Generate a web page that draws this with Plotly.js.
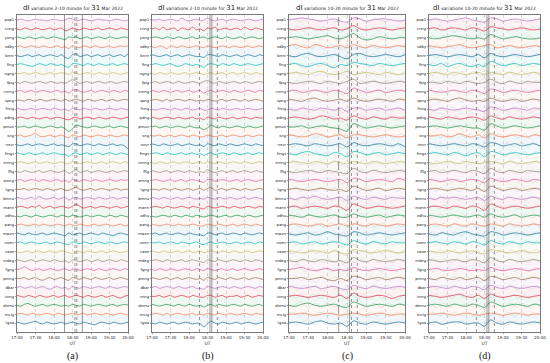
<!DOCTYPE html>
<html><head><meta charset="utf-8">
<script src="https://cdn.plot.ly/plotly-3.0.1.min.js"></script>
<style>html,body{margin:0;padding:0;background:#fff}#chart{width:550px;height:363px}</style>
</head><body><div id="chart"></div>
<script>
const stations = ["pop1","cnng","yong","sdby","bnnr","fing","ngng","fpig","cmng","spng","fnng","pdng","pmun","sng","nevr","fmgs","mnng","fllg","amng","tgng","bmnu","mann","zdhu","pang","mwzn","comr","naxe","mdeg","fgng","pmng","dbar","vnng","demu","mcig","tgoa"];
const timesAB = ["17:00","17:06","17:12","17:18","17:24","17:30","17:36","17:42","17:48","17:54","18:00","18:06","18:12","18:18","18:24","18:30","18:36","18:42","18:48","18:54","19:00","19:06","19:12","19:18","19:24","19:30","19:36","19:42","19:48","19:54","20:00"];
const timesCD = ["17:00","17:10","17:20","17:30","17:40","17:50","18:00","18:10","18:20","18:30","18:40","18:50","19:00","19:10","19:20","19:30","19:40","19:50","20:00"];
const xTicks = ["17:00","17:30","18:00","18:30","19:00","19:30","20:00"];
const eventTimes = ["18:17","18:34","18:37","18:46"];
const panelLabels = ["(a)","(b)","(c)","(d)"];
const bandNames = ["2-10","2-10","10-20","10-20"];

// dI 2-10 minute variations (tenths of row spacing)
const varA = [
[0,1,0,-1,0,1,0,0,-1,0,1,0,-1,0,2,1,-1,0,1,0,-1,0,1,0,0,-1,0,1,0,-1,0],
[0,-1,1,0,-1,1,0,-1,0,1,-1,0,1,-2,-1,1,0,-1,1,0,-1,0,1,-1,0,1,0,-1,1,0,-1],
[1,0,-1,1,0,-1,0,1,-1,0,1,0,-1,-2,1,0,1,-1,0,1,-1,0,1,0,-1,1,0,-1,0,1,0],
[0,1,-1,0,1,0,-1,1,0,-1,0,1,-1,0,-2,1,0,-1,1,0,-1,1,0,-1,0,1,-1,0,1,0,1],
[0,-1,0,1,-1,0,1,-1,0,1,0,-1,1,-2,-3,1,2,-1,0,1,-1,0,1,-1,0,1,-1,0,1,-1,2],
[0,1,0,-1,-2,-1,1,0,-1,1,0,-1,0,-2,-3,1,1,0,-1,1,0,-1,1,0,-1,0,1,-1,0,1,0],
[0,0,1,-1,0,1,0,-1,0,1,-1,0,1,0,-1,1,0,-1,0,1,0,-1,1,0,-1,0,1,0,-1,0,1],
[0,-1,1,0,-1,0,1,0,-1,1,0,-1,0,-1,1,3,1,-1,0,1,-1,0,1,0,-1,1,0,-1,0,1,0],
[0,1,-1,0,1,-1,0,1,0,-1,0,1,-1,0,-2,1,2,0,-1,0,1,-1,0,1,0,-1,1,0,-1,1,0],
[0,0,-1,1,0,-1,1,0,-1,0,1,0,-1,1,-1,0,1,0,-1,1,0,-1,0,1,-1,0,1,-1,0,1,0],
[1,0,-1,0,1,-1,0,1,0,-1,1,0,-1,0,-2,1,0,-1,1,0,-1,1,0,-1,0,1,0,-1,1,0,-1],
[0,1,0,-1,1,0,-1,0,1,-1,0,1,0,-1,-2,0,1,-1,0,1,0,-1,1,0,-1,0,1,0,-1,0,1],
[0,0,1,-1,0,1,0,-1,0,1,0,-1,0,-2,-5,-2,2,1,0,-1,0,1,0,-1,0,1,-1,0,1,0,-1],
[0,1,-1,0,1,3,0,-1,0,1,-1,0,1,-1,-2,1,0,-1,1,0,-1,0,1,0,-1,1,0,-1,0,1,0],
[0,-1,0,1,-1,0,1,0,-1,0,1,-1,0,-1,-2,1,1,-1,0,1,0,-1,1,0,-1,0,1,-1,0,-1,-5],
[1,0,-1,1,0,-1,0,1,-1,0,1,0,-1,-1,-3,0,1,-1,0,1,-1,0,1,-1,0,1,0,-1,1,0,-1],
[0,1,0,-1,0,1,-1,0,1,0,-1,0,1,-1,-1,1,0,-1,0,1,0,-1,0,1,-1,0,1,0,-1,1,0],
[0,-1,1,0,-1,0,1,-1,0,1,0,-1,0,1,-2,0,2,-1,0,1,-1,0,1,0,-1,0,1,-1,0,1,0],
[0,1,-1,0,1,0,-1,1,0,-1,0,1,-1,0,-2,1,0,-1,1,0,-1,1,0,-1,0,1,0,-1,1,0,1],
[0,0,1,-1,0,1,0,-1,1,0,-1,0,1,-1,-1,1,2,0,-1,0,1,-1,0,1,0,-1,0,1,-1,0,0],
[1,0,-1,0,1,-1,2,0,-1,0,1,-1,0,1,-2,0,1,-1,0,1,0,-1,1,0,-1,0,1,-1,0,1,0],
[0,1,0,-1,1,0,2,-1,0,1,-1,0,1,0,-1,1,3,1,-1,0,1,-1,0,1,0,-1,0,1,-1,0,1],
[0,-1,1,0,-1,1,0,-1,0,1,0,-1,1,0,-1,1,0,-1,0,1,-1,0,1,0,-1,1,0,-1,1,0,-1],
[0,1,0,-1,0,1,-1,1,0,-1,0,1,0,-1,1,0,-1,1,0,-1,0,1,-1,0,1,0,-1,0,1,-1,0],
[1,0,-1,1,0,-1,0,1,-1,0,1,0,-1,-2,1,-1,0,1,-1,0,1,0,-1,1,0,-1,-2,0,1,0,-1],
[0,1,-1,0,1,0,-1,0,1,-1,0,1,0,-1,-2,1,0,-1,1,0,-1,0,1,0,-1,1,0,-1,0,1,0],
[0,-1,0,1,-1,0,1,-1,0,1,-1,0,1,0,-1,-2,1,0,-1,1,0,-1,0,1,-1,0,1,0,-1,0,1],
[1,0,-1,0,1,-1,0,1,0,-1,1,0,-1,0,-2,1,0,-1,0,1,-1,0,1,-1,0,1,0,-1,1,0,-1],
[0,1,3,1,-1,0,1,-1,0,1,0,-1,0,1,-1,0,1,-1,0,1,0,-1,1,0,-1,0,1,0,-1,1,0],
[0,0,1,-1,0,1,-1,-2,0,1,-1,0,1,-1,-2,1,0,-1,1,0,-1,1,0,-1,0,1,-1,0,1,0,-1],
[0,1,-1,0,1,-1,0,1,-1,-2,0,1,-1,0,-2,1,0,-1,1,0,-1,0,1,0,-1,1,0,-1,0,1,0],
[1,0,-1,1,0,-1,1,0,-1,0,1,-1,0,1,-1,0,1,0,-1,1,0,-1,0,1,-1,0,1,-1,-2,0,1],
[0,-1,1,2,0,-1,0,1,-1,0,1,0,-1,0,-1,1,0,-1,1,0,-1,0,1,0,-1,0,1,-1,0,1,0],
[0,1,0,-1,1,0,-1,0,1,0,-1,1,0,-1,0,1,-1,0,1,-1,0,1,0,-1,1,0,-1,0,1,0,-1],
[1,0,-1,0,1,2,0,-1,1,0,-1,0,1,-1,0,1,0,-1,1,0,-1,-2,0,1,0,-1,1,0,-1,0,1]
];
const varB = [
[0,0,1,-1,0,1,0,-1,2,0,-1,0,1,-1,0,2,0,-1,0,1,-1,0,1,0,-1,0,1,0,-1,0,1],
[0,1,-1,2,-1,0,1,-2,1,0,-1,2,-1,0,-2,1,0,2,-1,0,1,-1,0,1,-1,2,0,-1,1,0,-1],
[0,1,0,-1,1,0,-1,1,0,-1,0,1,-1,0,1,-1,0,1,0,-1,1,0,-1,0,1,-1,0,1,0,-1,0],
[0,-1,1,0,-2,1,0,-1,1,0,-1,0,1,0,-1,1,0,-1,0,1,0,-1,1,0,-1,0,1,-1,0,1,0],
[1,0,-1,0,1,-1,0,1,-1,0,1,0,-1,-1,-2,1,1,0,-1,1,0,-1,0,1,-1,0,1,0,-1,1,0],
[0,1,0,-1,0,1,-1,-2,-1,1,0,-1,0,-1,-3,0,1,0,-1,1,0,-1,1,0,-1,0,1,0,-1,0,1],
[0,-1,1,0,-1,1,0,-1,0,1,-1,0,1,0,-1,0,1,-1,0,1,-1,0,1,-1,0,1,0,-1,1,0,-1],
[0,1,-1,0,1,0,-1,1,0,-1,0,1,0,-1,1,2,0,-1,1,0,-1,0,1,0,-1,1,0,-1,0,1,0],
[1,0,-1,1,0,-1,0,1,-1,0,1,-1,0,1,-2,0,1,-1,0,1,0,-1,1,0,-1,0,1,0,-1,1,0],
[0,1,0,-1,1,-1,0,1,0,-1,1,0,-1,0,-1,1,0,-1,0,1,-1,0,1,0,-1,1,-1,0,1,0,-1],
[0,-1,0,1,0,-1,1,0,-1,1,0,-1,0,1,-1,-1,1,0,-1,1,0,-1,0,1,-1,0,1,0,-1,0,1],
[1,0,-1,0,1,0,-1,1,0,-1,0,1,-1,0,-2,1,0,-1,1,0,-1,0,1,-1,0,1,0,-1,1,0,0],
[0,1,-1,0,1,-1,0,1,0,-1,1,0,-1,-1,-3,-1,2,0,-1,1,0,-1,0,1,0,-1,1,0,-1,0,1],
[0,0,1,-1,0,1,-1,0,1,0,-1,1,0,-1,-1,1,0,-1,0,1,-1,0,1,0,-1,0,1,-1,0,1,0],
[1,0,-1,1,0,-1,0,1,-1,0,1,0,-1,0,-2,1,0,-1,1,0,-1,1,0,-1,0,1,0,-1,1,0,-1],
[0,1,0,-1,1,0,-1,0,1,-1,0,1,-1,0,-2,0,1,-1,0,1,0,-1,1,0,-1,0,1,-1,0,1,0],
[0,-1,1,0,-1,0,1,-1,0,1,0,-1,0,1,-1,1,0,-1,1,0,-1,0,1,0,-1,1,0,-1,0,1,0],
[1,0,-1,0,1,-1,0,1,0,-1,1,0,-1,0,-1,2,0,-1,0,1,-1,0,1,-1,0,1,0,-1,1,0,-1],
[0,1,0,-1,0,1,-1,0,1,-1,0,1,0,-1,-2,1,1,-1,0,1,0,-1,0,1,-1,0,1,0,-1,0,1],
[0,0,-1,1,0,-1,1,0,-1,0,1,-1,0,1,-1,1,2,-1,0,1,-1,0,1,0,-1,1,0,-1,0,1,0],
[1,0,-1,1,0,-1,0,1,-1,0,1,0,-1,0,-1,1,0,-1,1,0,-1,1,0,-1,0,1,-1,0,1,0,-1],
[0,1,0,-1,1,0,-1,0,1,0,-1,1,0,-1,-2,1,0,-1,0,1,0,-1,1,0,-1,0,1,0,-1,1,0],
[0,-1,0,1,0,-1,1,0,-1,1,0,-1,1,0,-1,0,1,0,-1,0,1,-1,0,1,0,-1,1,0,-1,0,1],
[1,0,-1,0,1,0,-1,1,0,-1,0,1,0,-1,-1,1,0,-1,1,0,-1,0,1,-1,0,1,0,-1,1,0,-1],
[0,1,-1,0,1,-1,0,1,0,-1,1,0,-1,-1,-2,1,1,-1,0,1,-1,0,1,0,-1,1,0,-1,0,1,0],
[0,0,1,-1,0,1,0,-1,1,0,-1,0,1,-1,-2,0,1,-1,0,1,0,-1,0,1,-1,0,1,0,-1,1,0],
[1,0,-1,1,0,-1,0,1,-1,0,1,-1,0,1,-1,0,1,0,-1,1,0,-1,1,0,-1,0,1,-1,0,1,0],
[0,1,0,-1,1,0,-1,0,1,-1,0,1,0,-1,-2,1,0,-1,1,0,-1,0,1,0,-1,1,0,-1,1,0,-1],
[0,-1,1,0,-1,1,0,-1,0,1,0,-1,1,0,-1,1,0,-1,0,1,-1,0,1,-1,0,1,0,-1,0,1,0],
[1,0,-1,0,1,-1,0,1,-1,0,1,0,-1,0,-2,1,0,-1,1,0,-1,1,0,-1,0,1,-1,0,1,0,-1],
[0,1,-1,0,1,0,-1,1,0,-1,0,1,-1,-1,-2,1,0,-1,0,1,0,-1,1,0,-1,0,1,0,-1,1,0],
[0,0,1,-1,0,1,-1,0,1,0,-1,1,0,-1,-1,1,1,-1,0,1,-1,0,0,1,-1,0,1,-1,0,1,0],
[1,0,-1,0,1,0,-1,1,0,-1,1,0,-1,0,-2,0,1,-1,1,0,-1,0,1,0,-1,1,0,-1,0,1,-1],
[0,1,0,-1,1,-1,0,1,0,-1,0,1,-1,0,-1,1,0,-1,1,0,-1,1,0,-1,0,1,0,-1,1,0,0],
[0,-1,1,0,-1,0,1,-1,0,1,0,-1,0,-1,-4,-1,2,0,-1,1,0,-1,0,1,-1,0,1,0,-1,0,1]
];
// dI 10-20 minute variations
const varC = [
[0,1,2,1,0,-1,0,1,-1,-2,2,1,-1,0,1,1,0,-1,0],
[0,-1,0,1,0,-1,0,1,-1,0,3,0,-1,0,1,0,-1,0,1],
[0,1,0,-1,0,1,2,0,-1,1,4,0,-2,-1,1,0,-1,0,0],
[1,2,0,-1,2,1,-1,0,1,-1,2,0,-1,1,0,-1,0,1,0],
[0,-1,1,2,0,-1,0,1,-1,-3,1,2,0,-1,0,1,0,-1,1],
[0,1,-1,-2,0,1,-1,-3,0,-1,2,1,0,-1,1,0,-1,0,1],
[0,1,0,-1,1,2,0,-1,0,2,-1,0,1,0,-1,1,0,-1,0],
[0,-1,0,1,0,-1,1,0,-1,1,3,-1,0,1,0,-1,0,1,0],
[0,1,-1,0,1,0,-1,1,0,-2,3,1,-1,0,1,-1,0,1,0],
[1,0,-1,1,2,0,-1,0,1,-1,2,0,-1,0,1,0,-1,1,0],
[0,-1,1,0,-1,1,0,-1,1,-2,1,1,-1,0,1,-1,0,1,-1],
[0,1,0,-1,0,2,1,-1,0,-2,2,0,-1,1,0,-1,1,0,0],
[0,0,1,-1,0,1,0,-1,-2,-4,3,1,-1,0,1,0,-1,0,1],
[1,0,-1,0,2,1,-1,0,1,-2,1,1,0,-1,0,1,0,-1,0],
[0,1,0,-1,1,0,-1,0,1,-2,2,0,-1,0,1,0,-1,1,-2],
[0,-1,1,2,0,-1,-2,1,0,-3,2,1,-1,0,1,-1,0,1,0],
[0,1,0,-1,1,0,-1,1,0,-1,1,0,-1,1,0,-1,0,1,0],
[0,-1,0,1,0,-1,1,0,-1,-2,3,0,-1,1,0,-1,0,1,0],
[1,0,-1,0,1,0,-1,0,1,-2,2,1,-1,0,1,0,-1,2,0],
[0,1,0,-1,0,1,0,-1,0,-2,3,1,-1,0,1,-1,0,1,0],
[0,-1,1,0,2,0,-1,0,1,-2,2,0,-1,1,0,-1,1,0,0],
[0,1,-1,0,1,0,-1,1,0,-3,3,1,-1,0,1,0,-1,0,1],
[1,0,-1,1,0,-1,0,1,-1,-1,2,0,-1,0,1,-1,0,1,0],
[0,1,0,-1,0,1,-1,0,1,-1,1,0,-1,1,0,-1,0,1,0],
[0,-1,0,1,-1,0,2,0,-1,-2,2,1,-1,0,1,0,-1,0,1],
[0,1,-1,0,1,-1,0,1,0,-2,2,0,-1,1,0,-1,1,0,0],
[1,0,-1,0,1,0,-1,1,-1,-2,2,1,0,-1,0,1,0,-1,0],
[0,-1,1,0,-1,1,0,-1,0,-2,3,0,-1,1,0,-1,0,1,0],
[0,1,2,0,-1,0,1,-1,0,-1,2,0,-1,0,1,0,-1,0,1],
[0,0,1,-1,0,1,-1,-2,0,-2,2,1,-1,0,1,-1,0,1,0],
[1,0,-1,0,1,-1,0,1,-1,-2,2,0,-1,1,0,-1,0,1,0],
[0,1,0,-1,0,1,0,-1,1,-2,3,0,-1,0,1,0,-2,0,1],
[0,-1,1,2,0,-1,0,1,-1,-2,3,1,-1,0,1,0,-1,1,0],
[0,0,1,0,-1,0,1,0,-1,0,1,0,-1,0,1,0,-1,0,0],
[0,1,0,-1,1,2,0,-1,0,-3,2,0,-1,1,0,-1,0,1,0]
];
const varD = [
[0,1,0,-1,0,1,2,0,-1,-2,2,1,-1,0,1,0,-1,0,1],
[0,1,-1,0,1,0,-1,1,0,-2,2,1,0,-1,0,1,0,-1,0],
[0,-1,0,1,2,1,0,-1,0,-1,3,1,-1,0,1,0,-1,-1,0],
[1,0,-1,0,1,2,0,-1,0,1,2,-1,0,1,0,-1,0,1,0],
[0,1,0,-1,0,1,0,-1,1,-2,2,0,-1,0,1,0,-1,0,1],
[0,-1,1,-2,0,1,-1,-2,0,-2,3,1,-1,0,1,-1,0,1,0],
[0,1,0,-1,1,0,-1,0,1,-1,1,0,-1,1,0,-1,0,1,0],
[0,0,-1,1,0,-1,1,0,-1,0,3,0,-1,1,0,-1,1,0,0],
[1,0,-1,0,1,0,-1,1,0,-2,2,1,-1,0,1,0,-1,0,1],
[0,1,0,-1,1,2,0,-1,0,-1,2,0,-1,0,1,-1,0,1,0],
[0,-1,1,0,-1,0,1,0,-1,-2,2,1,-1,0,1,0,-1,1,0],
[1,0,-1,1,0,-1,0,1,0,-2,2,0,-1,1,0,-1,0,1,0],
[0,1,0,-1,0,1,0,-1,-1,-3,3,1,-1,0,1,0,-1,0,1],
[0,0,1,-1,0,2,0,-1,1,-2,2,0,-1,0,1,0,-1,1,0],
[1,0,-1,0,1,0,-1,1,0,-2,2,1,-1,0,1,-1,0,1,-1],
[0,1,0,-1,1,0,-2,0,1,-3,2,1,-1,0,1,0,-1,0,1],
[0,-1,0,1,0,-1,1,0,-1,0,1,0,-1,1,0,-1,0,1,0],
[0,1,-1,0,1,0,-1,1,0,-2,3,0,-1,1,0,-1,1,0,0],
[1,0,-1,0,1,-1,0,1,0,-2,2,0,-1,0,1,0,-1,1,0],
[0,1,0,-1,0,1,0,-1,1,-2,3,1,-1,0,1,-1,0,1,0],
[0,-1,1,0,1,0,-1,0,1,-2,2,0,-1,1,0,-1,0,1,0],
[0,1,0,-1,1,0,-1,1,0,-3,3,1,-1,0,1,0,-1,0,1],
[1,0,-1,0,1,0,-1,0,1,-1,2,0,-1,0,1,-1,0,1,0],
[0,1,0,-1,1,0,-1,1,0,-1,1,0,-1,1,0,-1,0,1,0],
[0,-1,1,0,-1,1,2,0,-1,-2,2,1,-1,0,1,0,-1,0,1],
[0,1,0,-1,1,0,-1,1,0,-2,2,0,-1,1,0,-1,1,0,0],
[0,0,-1,1,0,-1,0,1,-1,-2,2,1,0,-1,0,1,0,-1,0],
[1,0,-1,0,1,0,-1,1,0,-2,3,0,-1,1,0,-1,0,1,0],
[0,1,0,-1,0,1,0,-1,0,-1,2,0,-1,0,1,0,-1,0,1],
[0,-1,1,0,-1,1,-1,0,1,-2,2,1,-1,0,1,-1,0,1,0],
[0,1,0,-1,1,0,-1,1,0,-2,2,0,-1,1,0,-1,0,1,0],
[1,0,-1,0,1,2,0,-1,1,-2,2,0,-1,0,1,0,-1,0,1],
[0,1,0,-1,1,0,-1,1,0,-2,3,1,-1,0,1,0,-1,1,0],
[0,0,1,0,-1,0,1,0,-1,0,1,0,-1,0,1,0,-1,0,0],
[0,1,-1,0,1,1,-1,0,0,-3,3,0,-1,1,0,-1,0,1,0]
];

const palette = ["#c27fc9","#e2425b","#2f9e5b","#f2875f","#2d7ea3","#22bfc0","#c9c26e","#a08f84","#e469a6","#a57a5c"];

function rgba(hex,a){const n=parseInt(hex.slice(1),16);return `rgba(${n>>16},${(n>>8)&255},${n&255},${a})`;}
const day = "2022-03-31 ";
const W = 550, H = 363;
const boxes = [[17,128],[152,263],[289,405],[429,540]];
const yTop = 15, yBot = 332;

const panels = [
  {data: varA, t: timesAB, scale: 0.1, gray: null},
  {data: varB, t: timesAB, scale: 0.1, gray: null},
  {data: varC, t: timesCD, scale: 0.12, gray: varA},
  {data: varD, t: timesCD, scale: 0.12, gray: varB}
];
const dashes = [["solid","dot","dot","solid"],["dot","solid","solid","dot"],["dashdot","solid","dot","dot"],["dot","solid","solid","dot"]];

const traces = [];
const layout = {
  width: W, height: H, margin: {l:0,r:0,t:0,b:0},
  paper_bgcolor: "#fff", plot_bgcolor: "#fff", showlegend: false,
  font: {family: "DejaVu Sans", size: 4, color: "#222"},
  shapes: [], annotations: []
};

panels.forEach((p, pi) => {
  const sfx = pi === 0 ? "" : String(pi + 1);
  const xa = "x" + sfx, ya = "y" + sfx;
  if (p.gray) {
    p.gray.forEach((row, i) => {
      traces.push({type:"scatter", mode:"lines", xaxis:xa, yaxis:ya,
        x: timesAB.map(t => day + t), y: row.map(v => -i + 0.22 * v),
        line:{color:"rgba(150,150,150,0.35)", width:0.6, shape:"spline"}, hoverinfo:"skip"});
    });
  }
  p.data.forEach((row, i) => {
    const c = palette[i % palette.length];
    traces.push({type:"scatter", mode:"lines", xaxis:xa, yaxis:ya,
      x: p.t.map(t => day + t), y: row.map(v => -i + p.scale * v),
      line:{color:c, width:0.8, shape:"spline"},
      fill: i === 0 ? "none" : "tonexty", fillcolor: rgba(c, 0.07),
      name: stations[i]});
  });
  const [x0, x1] = boxes[pi];
  layout["xaxis" + sfx] = {
    type:"date", domain:[x0/W, x1/W], anchor: ya,
    range:[day + "17:00", day + "20:00"],
    tickvals: xTicks.map(t => day + t), ticktext: xTicks,
    tickfont:{size:4, color:"#222"}, ticks:"outside", ticklen:1.5, tickwidth:0.5, tickcolor:"#333",
    showline:true, mirror:true, linecolor:"#222", linewidth:0.6,
    showgrid:true, gridcolor:"#b8b8b8", gridwidth:0.5, griddash:"dot", zeroline:false,
    title:{text:"UT", font:{size:4.5, color:"#222"}, standoff:2}
  };
  layout["yaxis" + sfx] = {
    domain:[1 - yBot/H, 1 - yTop/H], anchor: xa,
    range:[-35.0, 0.56],
    tickvals: stations.map((s, i) => -i), ticktext: stations,
    tickfont:{size:3.8, color:"#222"}, ticks:"outside", ticklen:1.5, tickwidth:0.5, tickcolor:"#333",
    showline:true, mirror:true, linecolor:"#222", linewidth:0.6,
    showgrid:false, zeroline:false
  };
  eventTimes.forEach((t, k) => {
    layout.shapes.push({type:"line", xref:xa, yref: ya + " domain", x0: day + t, x1: day + t, y0:0, y1:1,
      line:{color:"#444", width:0.55, dash: dashes[pi][k]}});
  });
  const cx = (x0 + x1) / 2 / W;
  layout.annotations.push({xref:"paper", yref:"paper", x:cx, y:1 - 7.5/H, xanchor:"center", yanchor:"middle", showarrow:false,
    text:'<span style="font-size:7px">dI</span> variations ' + bandNames[pi] + ' minute for <span style="font-size:7px">31</span> Mar 2022',
    font:{size:4.5, color:"#222"}});
  layout.annotations.push({xref:"paper", yref:"paper", x:cx, y:1 - 356/H, xanchor:"center", yanchor:"middle", showarrow:false,
    text: panelLabels[pi], font:{family:"Liberation Serif", size:10, color:"#111"}});
});

Plotly.newPlot("chart", traces, layout, {staticPlot:true, displayModeBar:false});
</script>
</body></html>
